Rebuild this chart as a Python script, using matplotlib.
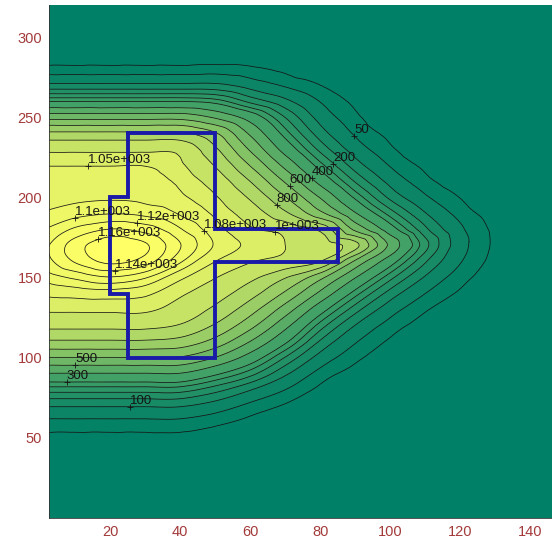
import numpy as np
import matplotlib
matplotlib.use("Agg")
import matplotlib.pyplot as plt
import matplotlib.tri as mtri

# grid of the field (x every 10, y every 10), values read/
x_vals = list(range(0, 151, 10))
y_vals = list(range(0, 321, 10))
z_rows = [
    [0, 0, 0, 0, 0, 0, 0, 0, 0, 0, 0, 0, 0, 0, 0, 0],
    [0, 0, 0, 0, 0, 0, 0, 0, 0, 0, 0, 0, 0, 0, 0, 0],
    [0, 0, 0, 0, 0, 0, 0, 0, 0, 0, 0, 0, 0, 0, 0, 0],
    [1, 1, 1, 1, 1, 0, 0, 0, 0, 0, 0, 0, 0, 0, 0, 0],
    [3, 3, 3, 3, 3, 2, 1, 0, 0, 0, 0, 0, 0, 0, 0, 0],
    [13, 13, 13, 13, 13, 8, 3, 1, 0, 0, 0, 0, 0, 0, 0, 0],
    [41, 41, 41, 41, 41, 28, 13, 4, 1, 0, 0, 0, 0, 0, 0, 0],
    [105, 105, 105, 105, 105, 77, 40, 17, 4, 1, 0, 0, 0, 0, 0, 0],
    [222, 222, 222, 222, 222, 170, 103, 50, 14, 4, 1, 0, 0, 0, 0, 0],
    [394, 394, 394, 394, 394, 314, 220, 109, 36, 11, 3, 0, 0, 0, 0, 0],
    [596, 596, 596, 596, 590, 496, 355, 196, 80, 27, 7, 1, 0, 0, 0, 0],
    [785, 785, 785, 785, 761, 663, 497, 315, 143, 54, 16, 4, 1, 0, 0, 0],
    [926, 926, 926, 926, 891, 787, 632, 429, 227, 98, 35, 10, 2, 0, 0, 0],
    [1011, 1012, 1013, 1013, 963, 877, 741, 552, 338, 171, 70, 23, 6, 1, 0, 0],
    [1056, 1063, 1067, 1058, 1011, 945, 838, 682, 476, 272, 128, 50, 16, 4, 1, 0],
    [1084, 1104, 1118, 1102, 1058, 1003, 924, 806, 627, 404, 217, 94, 31, 8, 1, 0],
    [1105, 1142, 1165, 1150, 1103, 1050, 1005, 970, 900, 580, 339, 156, 53, 12, 2, 0],
    [1110, 1150, 1176, 1163, 1121, 1077, 1040, 1000, 965, 833, 476, 218, 69, 15, 2, 0],
    [1097, 1124, 1141, 1132, 1102, 1064, 1010, 970, 880, 578, 344, 163, 59, 14, 2, 0],
    [1081, 1092, 1099, 1094, 1077, 1041, 957, 819, 627, 409, 227, 103, 36, 10, 2, 0],
    [1072, 1075, 1077, 1073, 1058, 1008, 886, 706, 494, 288, 138, 57, 19, 5, 1, 0],
    [1067, 1067, 1067, 1064, 1039, 960, 799, 589, 370, 195, 84, 29, 8, 2, 0, 0],
    [1048, 1048, 1048, 1048, 1012, 893, 695, 472, 269, 125, 47, 14, 3, 1, 0, 0],
    [981, 981, 981, 981, 973, 816, 587, 361, 185, 76, 25, 6, 1, 0, 0, 0],
    [819, 819, 819, 819, 819, 710, 483, 273, 124, 44, 13, 3, 1, 0, 0, 0],
    [563, 563, 563, 563, 563, 485, 355, 198, 81, 26, 6, 1, 0, 0, 0, 0],
    [296, 296, 296, 296, 296, 273, 184, 113, 48, 14, 3, 1, 0, 0, 0, 0],
    [113, 113, 113, 113, 113, 112, 78, 44, 20, 6, 1, 0, 0, 0, 0, 0],
    [30, 30, 30, 30, 30, 32, 26, 14, 6, 2, 0, 0, 0, 0, 0, 0],
    [6, 6, 6, 6, 6, 6, 6, 3, 1, 0, 0, 0, 0, 0, 0, 0],
    [1, 1, 1, 1, 1, 1, 1, 1, 0, 0, 0, 0, 0, 0, 0, 0],
    [0, 0, 0, 0, 0, 0, 0, 0, 0, 0, 0, 0, 0, 0, 0, 0],
    [0, 0, 0, 0, 0, 0, 0, 0, 0, 0, 0, 0, 0, 0, 0, 0],
]

levels = [20, 50, 100, 150, 200, 250, 300, 400, 500, 600, 700, 800, 900, 1000, 1050, 1080, 1100, 1120, 1140, 1160]

# blue outline
poly_x = [25, 50, 50, 85, 85, 50, 50, 25, 25, 20, 20, 25, 25]
poly_y = [240, 240, 180, 180, 160, 160, 100, 100, 140, 140, 200, 200, 240]

# contour labels: level and approximate place
label_levels = [50, 200, 400, 600, 800, 1080, 1000, 500, 300, 100, 1050, 1100, 1160, 1120, 1140]
label_x = [90.9, 82, 75.7, 69, 66.3, 49.4, 67, 10, 7.7, 25.7, 14, 11, 17, 27, 21]
label_y = [240.6, 216, 207, 200.6, 192.5, 186, 181, 91, 82.5, 64, 202, 180, 174, 173, 165]

x_ticks = [20, 40, 60, 80, 100, 120, 140]
y_ticks = [50, 100, 150, 200, 250, 300]

X, Y = np.meshgrid(np.array(x_vals, float), np.array(y_vals, float))
Z = np.array(z_rows, float)

fig = plt.figure(figsize=(5.52, 5.41), dpi=100)
ax = fig.add_axes([49/552, 23/541, 507.5/552, 513/541])

ny, nx = Z.shape
idx = np.arange(ny*nx).reshape(ny, nx)
a = idx[:-1, :-1].ravel(); b = idx[:-1, 1:].ravel()
c = idx[1:, 1:].ravel(); d = idx[1:, :-1].ravel()
tris = np.concatenate([np.stack([a, b, c], 1), np.stack([a, c, d], 1)])
tri = mtri.Triangulation(X.ravel(), Y.ravel(), tris)
interp = mtri.CubicTriInterpolator(tri, Z.ravel(), kind='geom')
tri2, z2 = mtri.UniformTriRefiner(tri).refine_field(Z.ravel(), triinterpolator=interp, subdiv=3)

cmap = plt.get_cmap('summer')
fill_levels = [-1000] + levels + [5000]
fill_colors = [cmap(0.0)] + [cmap(min(l/1160, 1)) for l in levels]
ax.tricontourf(tri2, z2, levels=fill_levels, colors=fill_colors)
cs = ax.tricontour(tri2, z2, levels=levels, colors='#151515', linewidths=0.55)

def fmt(v):
    return f"{v:.3g}".replace("e+03", "e+003")

paths = cs.get_paths()
for lev, lx, ly in zip(label_levels, label_x, label_y):
    v = paths[levels.index(lev)].vertices
    if len(v) == 0:
        continue
    j = np.argmin(((v[:, 0]-lx)*3.5)**2 + ((v[:, 1]-ly)*1.6)**2)
    px, py = v[j]
    ax.text(px, py, fmt(lev), ha='left', va='bottom', fontsize=9.5,
            family='Liberation Sans', color='#151515')
    ax.plot([px], [py], marker='+', color='#151515', ms=5, mew=0.6)

ax.plot(poly_x, poly_y, color='#1a1aa8', lw=2.8, solid_joinstyle='miter')

ax.set_xlim(2.5, 147.5)
ax.set_ylim(0, 320)
ax.set_xticks(x_ticks)
ax.set_yticks(y_ticks)
ax.tick_params(colors='#a33a3a', labelsize=10.5, direction='in', length=0, pad=5)
for lab in ax.get_xticklabels() + ax.get_yticklabels():
    lab.set_fontfamily('Liberation Sans')
ax.spines['top'].set_visible(False)
ax.spines['right'].set_visible(False)
for sp in ('left', 'bottom'):
    ax.spines[sp].set_color('#333333')
    ax.spines[sp].set_linewidth(0.6)

fig.savefig('out.png', dpi=100)
